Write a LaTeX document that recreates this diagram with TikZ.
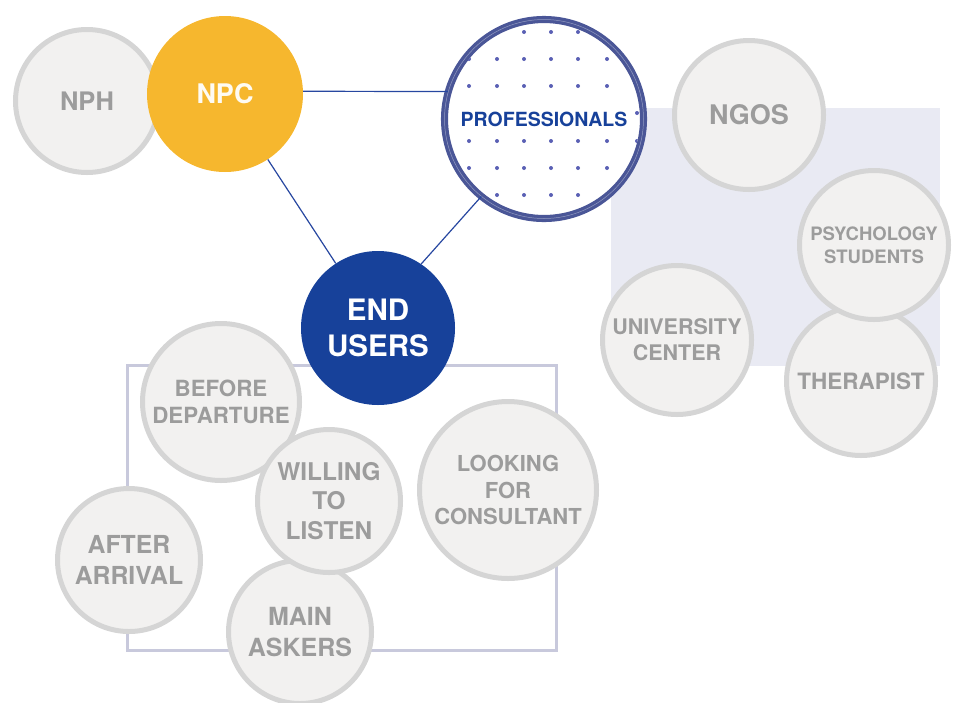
\documentclass[tikz,border=0pt]{standalone}
\usepackage{fontspec}
\setmainfont{TeX Gyre Heros}
\usepackage{xcolor}
\usetikzlibrary{shapes, positioning}

\definecolor{bubblefill}{HTML}{F2F1F0}
\definecolor{bubbleline}{HTML}{D5D5D5}
\definecolor{bubbletext}{HTML}{9C9C9C}
\definecolor{npcyellow}{HTML}{F6B72E}
\definecolor{userblue}{HTML}{17419A}
\definecolor{ringblue}{HTML}{4A5697}
\definecolor{dotblue}{HTML}{5A60B4}
\definecolor{linkblue}{HTML}{2747A0}
\definecolor{panelgrey}{HTML}{E9EAF3}
\definecolor{framegrey}{HTML}{C8C9DC}

\newcommand\bubblefont[1]{\bfseries\fontsize{#1}{\dimexpr #1pt*122/100\relax}\selectfont}

\tikzset{
    bubble/.style={circle, fill=bubblefill, draw=bubbleline, line width=5pt,
        inner sep=0pt, align=center, text=bubbletext, minimum size=#1},
    hub/.style={circle, inner sep=0pt, align=center, minimum size=#1},
    link/.style={draw=linkblue, line width=1.2pt},
}

\begin{document}
\begin{tikzpicture}[x=1pt, y=-1pt]
        \useasboundingbox (0, 0) rectangle (957, 702);

        % panel behind the professionals
        \fill[panelgrey] (611, 108) rectangle (940, 366);
        \draw[framegrey, line width=3pt] (127, 365) rectangle (556, 650);

        % top row
        \node[bubble=143, font=\bubblefont{25.5}] (nph) at (87, 101) {NPH};
        \node[hub=156, fill=npcyellow, text=white!94!npcyellow, font=\bubblefont{27}] (npc) at (225, 94) {NPC};

        \node[hub=199, fill=white] (prof) at (544, 119) {};
        \begin{scope}
            \clip (prof.center) circle (95.8);
            \foreach \y in {32, 59, 86, 113, 141, 168, 195} {
                \foreach \x in {469, 497, 524, 551, 578, 607, 637} {
                    \fill[dotblue] (\x, \y) circle (2);
                }
            }
        \end{scope}
        \draw[ringblue, line width=3.3pt, double=ringblue!60!white, double distance=0.5pt] (prof.center) circle (99.5);
        \node[fill=white, inner sep=0.5pt, text=userblue, font=\bubblefont{19.5}] (proflabel) at (prof.center) {PROFESSIONALS};

        % right group
        \node[bubble=149, font=\bubblefont{27}] (ngos) at (749, 115) {NGOS};
        \node[bubble=149, font=\bubblefont{22.5}] (therapist) at (861, 381) {THERAPIST};
        \node[bubble=149, font=\bubblefont{18.5}] (psych) at (874, 245) {PSYCHOLOGY\\STUDENTS};
        \node[bubble=149, font=\bubblefont{21.5}] (univ) at (677, 340) {UNIVERSITY\\CENTER};

        % end users and their group
        \node[hub=154, fill=userblue, text=white, font=\bubblefont{29.5}] (users) at (378, 328) {END\\USERS};
        \node[bubble=157, font=\bubblefont{22.3}] (before) at (221, 402) {BEFORE\\DEPARTURE};
        \node[bubble=143, font=\bubblefont{25}] (askers) at (300, 632) {MAIN\\ASKERS};
        \node[bubble=143, font=\bubblefont{24.4}] (willing) at (329, 501) {WILLING\\TO\\LISTEN};
        \node[bubble=143, font=\bubblefont{24.8}] (after) at (129, 560) {AFTER\\ARRIVAL};
        \node[bubble=177, font=\bubblefont{22}] (looking) at (508, 490) {LOOKING\\FOR\\CONSULTANT};

        \draw[link] (npc.2) -- (prof.164)
            (npc) -- (users)
            (users.56) -- (prof.231);
    \end{tikzpicture}
\end{document}
